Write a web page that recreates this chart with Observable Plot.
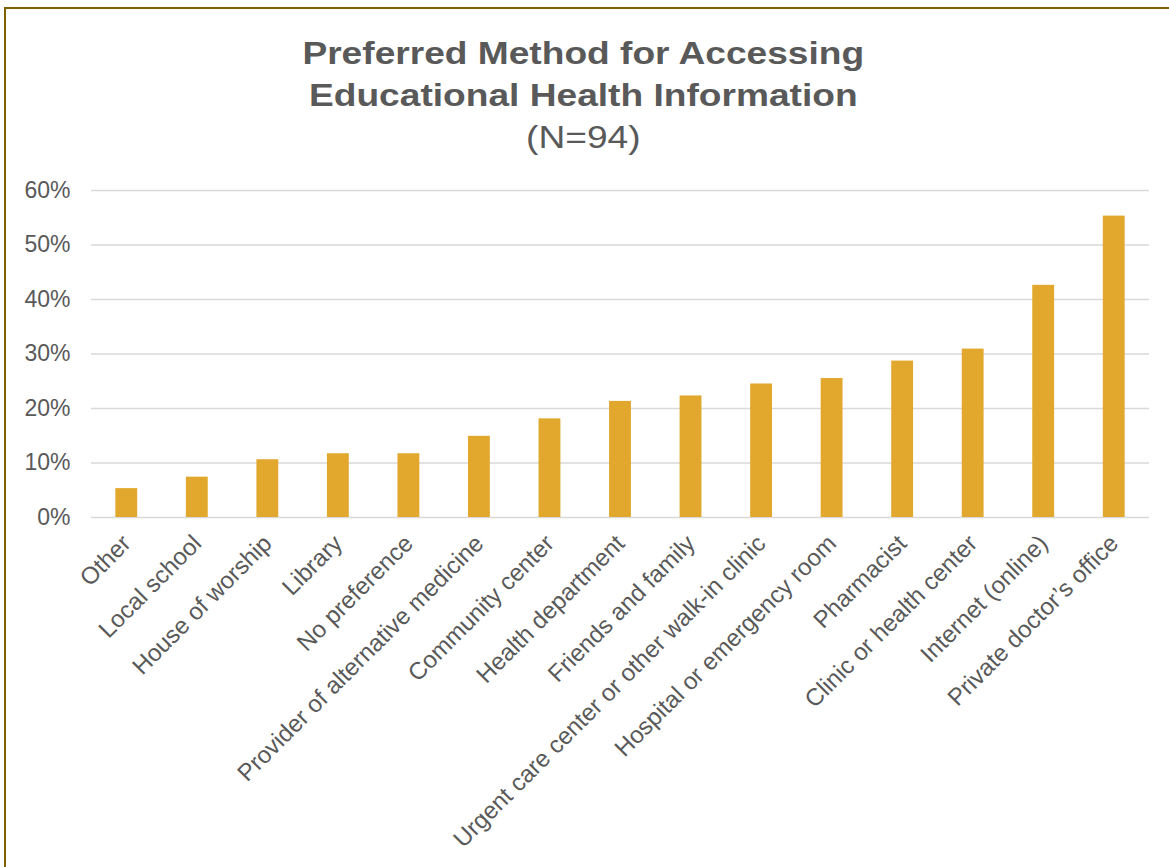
<!DOCTYPE html>
<html>
<head>
<meta charset="utf-8">
<script src="https://cdn.jsdelivr.net/npm/d3@7"></script>
<script src="https://cdn.jsdelivr.net/npm/@observablehq/plot@0.6"></script>
<style>
  html, body { margin: 0; padding: 0; background: #fff; overflow: hidden; }
  #frame {
    position: absolute; left: 4px; top: 7px; width: 1190px; height: 880px;
    border-left: 2px solid #7F6000; border-top: 2px solid #7F6000;
    box-sizing: border-box;
  }
  #wrap { position: absolute; left: 0; top: 0; width: 1169px; height: 867px; overflow: hidden; font-family: "Liberation Sans", Arial, sans-serif; color: #595959; }
  .t { position: absolute; left: 0; width: 1169px; text-align: center; transform: scaleX(1.16); transform-origin: 592px 0; }
  #title { top: 32px; font-weight: bold; font-size: 32px; line-height: 42px; }
  #subtitle { top: 117px; font-size: 32px; line-height: 40px; }
  #chart { position: absolute; left: 0; top: 170px; }
</style>
</head>
<body>
<div id="wrap">
  <div id="frame"></div>
  <div id="title" class="t">Preferred Method for Accessing<br>Educational Health Information</div>
  <div id="subtitle" class="t">(N=94)</div>
  <div id="chart"></div>
</div>
<script>
const categories = ["Other", "Local school", "House of worship", "Library", "No preference",
  "Provider of alternative medicine", "Community center", "Health department", "Friends and family",
  "Urgent care center or other walk-in clinic", "Hospital or emergency room", "Pharmacist",
  "Clinic or health center", "Internet (online)", "Private doctor\u2019s office"];
const values = [0.053, 0.074, 0.106, 0.117, 0.117, 0.149, 0.181, 0.213, 0.223, 0.245, 0.255, 0.287, 0.309, 0.426, 0.553];
const yTicks = [0, 0.1, 0.2, 0.3, 0.4, 0.5, 0.6];

const data = categories.map((c, i) => ({category: c, value: values[i]}));

const chart = Plot.plot({
  width: 1169,
  height: 697,
  marginTop: 20,
  marginBottom: 350,
  marginLeft: 91,
  marginRight: 20,
  style: {fontFamily: "Liberation Sans, Arial, sans-serif", color: "#595959", background: "transparent"},
  x: {domain: categories, paddingInner: 0.69, paddingOuter: 0.345, round: false, label: null},
  y: {domain: [0, 0.6], label: null},
  marks: [
    Plot.gridY(yTicks, {stroke: "#d9d9d9", strokeOpacity: 1, strokeWidth: 1.5}),
    Plot.barY(data, {x: "category", y: "value", fill: "#E2A82E"}),
    Plot.axisY(yTicks, {tickSize: 0, tickPadding: 21, tickFormat: d => Math.round(d * 100) + "%", fontSize: 23, fill: "#595959", label: null}),
    Plot.axisX({tickSize: 0, tickRotate: -45, tickPadding: 22, fontSize: 24, fill: "#595959", label: null})
  ]
});
document.getElementById("chart").appendChild(chart);
</script>
</body>
</html>
